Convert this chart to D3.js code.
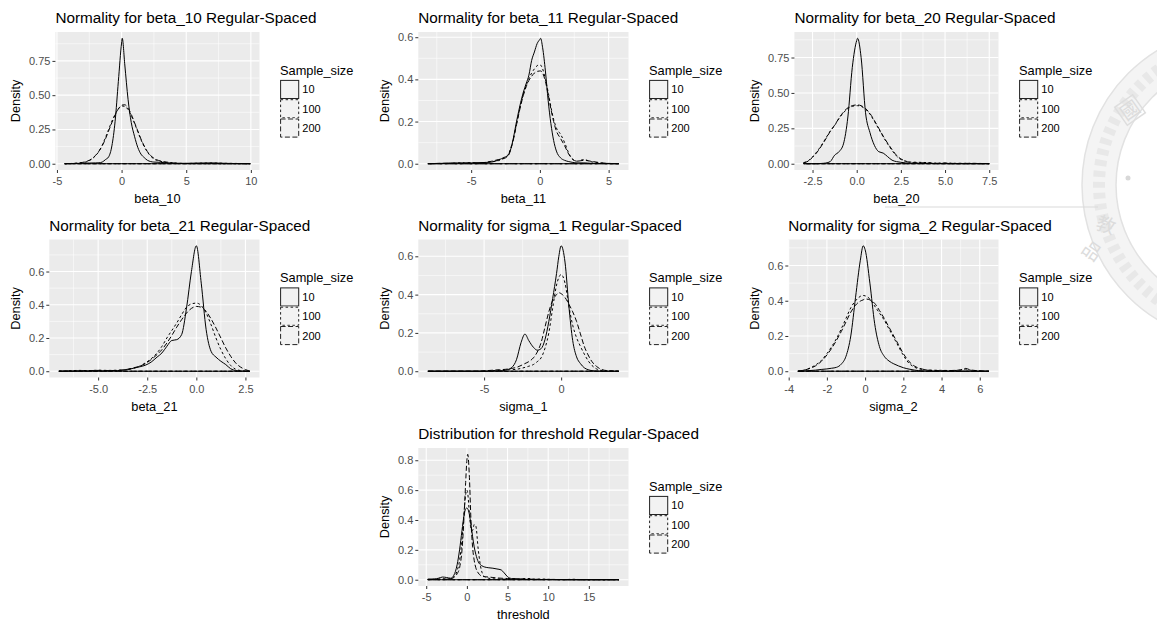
<!DOCTYPE html>
<html><head><meta charset="utf-8">
<script src="https://cdn.jsdelivr.net/npm/d3@7"></script>
<style>
body{margin:0;background:#fff;}
svg{display:block;font-family:"Liberation Sans",Arial,sans-serif;}
</style>
</head><body>
<svg id="c" width="1157" height="628"></svg>
<script>
// ---------------- DATA ----------------
const sampleSizes = ["10", "100", "200"];

// beta_10
const b10_x = [-4.4,-3.5,-3,-2.5,-2,-1.75,-1.5,-1.25,-1,-0.75,-0.5,-0.25,0,0.05,0.25,0.5,0.75,1,1.25,1.5,1.75,2,2.5,3,3.5,4,4.5,5,6,7,8,9,9.95];
const b10_n10 = [0,0.002,0.004,0.005,0.006,0.007,0.012,0.03,0.05,0.13,0.31,0.6,0.88,0.915,0.72,0.47,0.3,0.2,0.12,0.07,0.045,0.025,0.012,0.01,0.006,0.004,0.003,0.003,0.005,0.006,0.003,0.001,0];
const b10_n100 = [0,0.004,0.008,0.022,0.06,0.09,0.135,0.19,0.25,0.31,0.36,0.4,0.42,0.421,0.418,0.395,0.35,0.295,0.235,0.175,0.125,0.085,0.035,0.018,0.008,0.006,0.003,0.002,0.004,0.005,0.003,0.002,0];
const b10_n200 = [0,0.003,0.01,0.025,0.062,0.092,0.13,0.18,0.24,0.3,0.355,0.4,0.425,0.428,0.43,0.405,0.36,0.3,0.24,0.18,0.13,0.088,0.04,0.02,0.012,0.005,0.002,0.001,0.001,0.001,0,0,0];
const b10_xTicks = [-5, 0, 5, 10];
const b10_xLabels = ["-5", "0", "5", "10"];
const b10_yTicks = [0, 0.25, 0.5, 0.75];
const b10_yLabels = ["0.00", "0.25", "0.50", "0.75"];

// beta_11
const b11_x = [-8.15,-7,-6,-5.5,-5,-4.5,-4,-3.5,-3,-2.6,-2.3,-2,-1.7,-1.4,-1.2,-1,-0.8,-0.6,-0.4,-0.2,0,0.05,0.2,0.4,0.6,0.8,1,1.2,1.5,1.8,2.1,2.4,2.7,3.2,3.7,4.5,5.75];
const b11_n10 = [0,0.002,0.004,0.003,0.004,0.005,0.006,0.008,0.018,0.03,0.04,0.1,0.2,0.29,0.34,0.38,0.42,0.49,0.53,0.57,0.59,0.595,0.55,0.44,0.3,0.19,0.11,0.06,0.028,0.016,0.01,0.006,0.004,0.004,0.002,0.001,0];
const b11_n100 = [0,0.001,0.003,0.005,0.004,0.003,0.005,0.01,0.015,0.028,0.045,0.1,0.19,0.28,0.33,0.37,0.405,0.43,0.45,0.465,0.47,0.468,0.45,0.4,0.34,0.27,0.21,0.17,0.14,0.1,0.05,0.02,0.012,0.02,0.01,0.003,0];
const b11_n200 = [0,0.002,0.002,0.003,0.004,0.003,0.006,0.012,0.02,0.025,0.04,0.095,0.185,0.275,0.325,0.365,0.395,0.415,0.43,0.438,0.44,0.44,0.43,0.39,0.33,0.26,0.2,0.155,0.12,0.085,0.045,0.02,0.012,0.016,0.012,0.004,0];
const b11_xTicks = [-5, 0, 5];
const b11_xLabels = ["-5", "0", "5"];
const b11_yTicks = [0, 0.2, 0.4, 0.6];
const b11_yLabels = ["0.0", "0.2", "0.4", "0.6"];

// beta_20
const b20_x = [-3,-2.75,-2.5,-2.25,-2,-1.75,-1.5,-1.25,-1,-0.75,-0.5,-0.25,0,0.05,0.25,0.5,0.75,1,1.25,1.5,1.75,2,2.25,2.5,2.75,3,3.5,4,4.5,5,5.5,6,6.5,7,7.5];
const b20_n10 = [0,0,0,0,0.002,0.005,0.015,0.06,0.085,0.14,0.33,0.68,0.87,0.886,0.75,0.36,0.22,0.13,0.085,0.075,0.05,0.025,0.015,0.01,0.006,0.004,0.003,0.002,0.001,0.001,0,0,0,0,0];
const b20_n100 = [0.008,0.02,0.05,0.085,0.13,0.18,0.23,0.27,0.32,0.36,0.39,0.405,0.41,0.41,0.405,0.385,0.35,0.3,0.245,0.19,0.14,0.095,0.055,0.03,0.018,0.012,0.01,0.008,0.004,0.004,0.003,0.003,0.002,0.002,0];
const b20_n200 = [0.006,0.018,0.045,0.08,0.125,0.175,0.228,0.272,0.322,0.365,0.395,0.41,0.415,0.415,0.41,0.39,0.355,0.305,0.25,0.195,0.145,0.1,0.06,0.034,0.02,0.01,0.006,0.006,0.003,0.005,0.002,0.002,0.003,0.001,0];
const b20_xTicks = [-2.5, 0, 2.5, 5, 7.5];
const b20_xLabels = ["-2.5", "0.0", "2.5", "5.0", "7.5"];
const b20_yTicks = [0, 0.25, 0.5, 0.75];
const b20_yLabels = ["0.00", "0.25", "0.50", "0.75"];

// beta_21
const b21_x = [-7,-6.5,-6,-5.5,-5,-4.5,-4,-3.5,-3.2,-2.9,-2.6,-2.3,-2,-1.75,-1.5,-1.25,-1,-0.75,-0.5,-0.25,0,0.25,0.5,0.75,1,1.25,1.5,1.75,2,2.25,2.5,2.73];
const b21_n10 = [0,0.001,0.001,0.002,0.002,0.002,0.004,0.01,0.018,0.026,0.036,0.055,0.085,0.11,0.15,0.185,0.19,0.22,0.38,0.6,0.755,0.53,0.25,0.12,0.085,0.06,0.04,0.015,0.004,0.001,0,0];
const b21_n100 = [0,0.002,0.005,0.004,0.006,0.005,0.006,0.01,0.018,0.03,0.05,0.075,0.11,0.15,0.2,0.245,0.29,0.34,0.385,0.405,0.41,0.395,0.35,0.28,0.2,0.13,0.075,0.035,0.012,0.004,0.001,0];
const b21_n200 = [0,0.001,0.002,0.003,0.005,0.004,0.005,0.012,0.02,0.03,0.045,0.07,0.1,0.13,0.17,0.215,0.265,0.31,0.35,0.378,0.39,0.385,0.36,0.315,0.26,0.2,0.14,0.09,0.05,0.025,0.01,0];
const b21_xTicks = [-5, -2.5, 0, 2.5];
const b21_xLabels = ["-5.0", "-2.5", "0.0", "2.5"];
const b21_yTicks = [0, 0.2, 0.4, 0.6];
const b21_yLabels = ["0.0", "0.2", "0.4", "0.6"];

// sigma_1
const s1_x = [-8.65,-7.5,-6.5,-5.5,-5,-4.5,-4,-3.6,-3.2,-2.9,-2.6,-2.35,-2.1,-1.8,-1.55,-1.3,-1.05,-0.8,-0.55,-0.3,-0.15,0,0.25,0.5,0.75,1,1.25,1.5,1.75,2,2.3,2.6,3,3.75];
const s1_n10 = [0,0,0,0,0,0.001,0.002,0.006,0.02,0.06,0.15,0.194,0.16,0.125,0.11,0.118,0.165,0.26,0.38,0.51,0.6,0.655,0.57,0.34,0.16,0.075,0.04,0.018,0.008,0.003,0.001,0,0,0];
const s1_n100 = [0,0,0,0,0.001,0.003,0.004,0.006,0.008,0.01,0.015,0.02,0.026,0.035,0.05,0.07,0.12,0.2,0.33,0.45,0.49,0.505,0.46,0.34,0.24,0.175,0.13,0.09,0.055,0.03,0.012,0.004,0.001,0];
const s1_n200 = [0,0,0,0,0.002,0.005,0.008,0.01,0.015,0.02,0.03,0.04,0.05,0.07,0.1,0.15,0.23,0.31,0.37,0.4,0.41,0.405,0.385,0.35,0.31,0.26,0.195,0.13,0.085,0.05,0.025,0.01,0.003,0];
const s1_xTicks = [-5, 0];
const s1_xLabels = ["-5", "0"];
const s1_yTicks = [0, 0.2, 0.4, 0.6];
const s1_yLabels = ["0.0", "0.2", "0.4", "0.6"];

// sigma_2
const s2_x = [-3.52,-3,-2.6,-2.3,-2,-1.75,-1.5,-1.25,-1,-0.75,-0.5,-0.25,-0.1,0,0.25,0.5,0.75,1,1.25,1.5,1.75,2,2.3,2.6,3,3.5,4,4.5,5,5.25,5.5,6,6.48];
const s2_n10 = [0,0.003,0.006,0.01,0.013,0.017,0.022,0.04,0.085,0.2,0.42,0.63,0.712,0.69,0.5,0.27,0.14,0.085,0.058,0.042,0.03,0.02,0.012,0.006,0.002,0,0,0,0,0,0,0,0];
const s2_n100 = [0,0.013,0.035,0.06,0.1,0.14,0.185,0.24,0.3,0.36,0.4,0.425,0.43,0.428,0.41,0.37,0.33,0.29,0.24,0.19,0.14,0.09,0.045,0.022,0.01,0.006,0.005,0.004,0.006,0.012,0.006,0.002,0];
const s2_n200 = [0,0.012,0.03,0.055,0.092,0.13,0.175,0.225,0.28,0.335,0.375,0.398,0.405,0.41,0.405,0.385,0.345,0.3,0.25,0.2,0.15,0.1,0.055,0.028,0.012,0.004,0.003,0.004,0.008,0.016,0.008,0.002,0];
const s2_xTicks = [-4, -2, 0, 2, 4, 6];
const s2_xLabels = ["-4", "-2", "0", "2", "4", "6"];
const s2_yTicks = [0, 0.2, 0.4, 0.6];
const s2_yLabels = ["0.0", "0.2", "0.4", "0.6"];

// threshold
const th_x = [-4.8,-4,-3.5,-3,-2.5,-2,-1.6,-1.2,-0.9,-0.6,-0.35,-0.15,0,0.1,0.3,0.5,0.7,0.9,1.1,1.4,1.8,2.2,2.7,3.2,3.7,4.2,4.6,5,5.5,6.5,7.5,8.5,9.5,10.5,12,13,14,16,18.7];
const th_n10 = [0.004,0.005,0.01,0.018,0.015,0.01,0.03,0.1,0.2,0.33,0.43,0.475,0.48,0.475,0.44,0.37,0.29,0.22,0.17,0.12,0.095,0.085,0.08,0.077,0.072,0.066,0.045,0.02,0.008,0.004,0.002,0.001,0.001,0.001,0,0,0,0,0];
const th_n100 = [0.002,0.003,0.004,0.006,0.005,0.008,0.02,0.06,0.13,0.27,0.45,0.57,0.6,0.58,0.45,0.34,0.33,0.37,0.36,0.2,0.06,0.02,0.01,0.006,0.005,0.004,0.004,0.005,0.006,0.006,0.008,0.004,0.004,0.002,0.001,0.003,0.001,0,0];
const th_n200 = [0.001,0.002,0.003,0.003,0.004,0.006,0.015,0.04,0.08,0.2,0.42,0.65,0.8,0.84,0.7,0.4,0.22,0.13,0.08,0.045,0.025,0.02,0.018,0.015,0.012,0.01,0.009,0.008,0.006,0.005,0.004,0.003,0.002,0.002,0.001,0.001,0,0,0];
const th_xTicks = [-5, 0, 5, 10, 15];
const th_xLabels = ["-5", "0", "5", "10", "15"];
const th_yTicks = [0, 0.2, 0.4, 0.6, 0.8];
const th_yLabels = ["0.0", "0.2", "0.4", "0.6", "0.8"];

const panelTitles = [
  "Normality for beta_10 Regular-Spaced",
  "Normality for beta_11 Regular-Spaced",
  "Normality for beta_20 Regular-Spaced",
  "Normality for beta_21 Regular-Spaced",
  "Normality for sigma_1 Regular-Spaced",
  "Normality for sigma_2 Regular-Spaced",
  "Distribution for threshold Regular-Spaced"
];
const xTitles = ["beta_10", "beta_11", "beta_20", "beta_21", "sigma_1", "sigma_2", "threshold"];
const yTitle = "Density";
const legendTitle = "Sample_size";

// ---------------- ASSEMBLY ----------------
const panels = [
  {x: b10_x, ys: [b10_n10, b10_n100, b10_n200], xt: b10_xTicks, xl: b10_xLabels, yt: b10_yTicks, yl: b10_yLabels, col: 0, row: 0},
  {x: b11_x, ys: [b11_n10, b11_n100, b11_n200], xt: b11_xTicks, xl: b11_xLabels, yt: b11_yTicks, yl: b11_yLabels, col: 1, row: 0},
  {x: b20_x, ys: [b20_n10, b20_n100, b20_n200], xt: b20_xTicks, xl: b20_xLabels, yt: b20_yTicks, yl: b20_yLabels, col: 2, row: 0},
  {x: b21_x, ys: [b21_n10, b21_n100, b21_n200], xt: b21_xTicks, xl: b21_xLabels, yt: b21_yTicks, yl: b21_yLabels, col: 0, row: 1},
  {x: s1_x, ys: [s1_n10, s1_n100, s1_n200], xt: s1_xTicks, xl: s1_xLabels, yt: s1_yTicks, yl: s1_yLabels, col: 1, row: 1},
  {x: s2_x, ys: [s2_n10, s2_n100, s2_n200], xt: s2_xTicks, xl: s2_xLabels, yt: s2_yTicks, yl: s2_yLabels, col: 2, row: 1},
  {x: th_x, ys: [th_n10, th_n100, th_n200], xt: th_xTicks, xl: th_xLabels, yt: th_yTicks, yl: th_yLabels, col: 1, row: 2}
];
panels.forEach((p, i) => {
  p.title = panelTitles[i]; p.xlab = xTitles[i];
  p.ys.forEach((s, k) => { if (s.length !== p.x.length) throw new Error("length mismatch panel " + i + " series " + k); });
});

// ---------------- STYLE / LAYOUT ----------------
const dashes = [null, "2.5,2.5", "5,2.5"];
const colX = [0, 369, 739];
const rowTop = [32, 239.5, 448];
const panelH = 138;
const FS_TICK = 11, FS_AXT = 12.8, FS_TITLE = 15.3;

const svg = d3.select("#c");
svg.append("rect").attr("width", 1157).attr("height", 628).attr("fill", "#fff");

// faint watermark seal (background)
(function watermark() {
  const wm = svg.append("g");
  const cx = 1240, cy = 185, ro = 158, ri = 124;
  const ring = d3.arc().innerRadius(ri).outerRadius(ro).startAngle(0).endAngle(2 * Math.PI);
  wm.append("path").attr("transform", `translate(${cx},${cy})`).attr("d", ring()).attr("fill", "#f4f4f4");
  wm.append("circle").attr("cx", cx).attr("cy", cy).attr("r", (ro + ri) / 2)
    .attr("fill", "none").attr("stroke", "#e8e8e8").attr("stroke-width", 12).attr("stroke-dasharray", "6,5");
  wm.append("circle").attr("cx", cx).attr("cy", cy).attr("r", ro).attr("fill", "none").attr("stroke", "#e2e2e2").attr("stroke-width", 1.5);
  wm.append("circle").attr("cx", cx).attr("cy", cy).attr("r", ri).attr("fill", "none").attr("stroke", "#e2e2e2").attr("stroke-width", 1.5);
  wm.append("rect").attr("x", 1119).attr("y", 99).attr("width", 22).attr("height", 22)
    .attr("transform", "rotate(-35,1130,110)").attr("fill", "none").attr("stroke", "#dedede").attr("stroke-width", 1.5);
  const chars = [["國", 1130, 117, -35], ["教", 1106, 232, 20], ["品", 1092, 258, 35]];
  chars.forEach(([t, x, y, rot]) => {
    wm.append("text").attr("x", x).attr("y", y).attr("transform", `rotate(${rot},${x},${y - 7})`)
      .attr("text-anchor", "middle").attr("font-family", "Noto Sans CJK TC").attr("font-size", 19)
      .attr("fill", "#dcdcdc").text(t);
  });
  wm.append("circle").attr("cx", 1128).attr("cy", 178).attr("r", 2.5).attr("fill", "#d8d8d8");
  wm.append("line").attr("x1", 885).attr("x2", 1098).attr("y1", 207).attr("y2", 207)
    .attr("stroke", "#dadada").attr("stroke-width", 1.2);
})();

function minorBreaks(ticks, dom) {
  const step = ticks.length > 1 ? ticks[1] - ticks[0] : 1;
  const out = [];
  const kStart = Math.floor((dom[0] - ticks[0]) / step) - 1;
  const kEnd = Math.ceil((dom[1] - ticks[0]) / step) + 1;
  for (let k = kStart; k <= kEnd; k++) {
    const m = ticks[0] + (k + 0.5) * step;
    if (m >= dom[0] && m <= dom[1]) out.push(m);
  }
  return out;
}

panels.forEach(p => {
  const g = svg.append("g");
  const tmp = g.append("g").attr("font-size", FS_TICK);
  let maxW = 0;
  p.yl.forEach(t => { const el = tmp.append("text").text(t); maxW = Math.max(maxW, el.node().getComputedTextLength()); });
  tmp.remove();

  const cx0 = colX[p.col];
  const labelsLeft = cx0 + 29;
  const left = labelsLeft + maxW + 5;
  const right = cx0 + 259.5;
  const top = rowTop[p.row], bottom = top + panelH;

  const xExt = d3.extent(p.x), r = xExt[1] - xExt[0];
  const x = d3.scaleLinear().domain([xExt[0] - 0.05 * r, xExt[1] + 0.05 * r]).range([left, right]);
  const ymax = d3.max(p.ys.flat());
  const y = d3.scaleLinear().domain([-0.05 * ymax, 1.05 * ymax]).range([bottom, top]);

  g.append("rect").attr("x", left).attr("y", top).attr("width", right - left).attr("height", bottom - top).attr("fill", "#EBEBEB");
  minorBreaks(p.xt, x.domain()).forEach(v => g.append("line").attr("x1", x(v)).attr("x2", x(v)).attr("y1", top).attr("y2", bottom).attr("stroke", "#fff").attr("stroke-width", 0.55));
  minorBreaks(p.yt, y.domain()).forEach(v => g.append("line").attr("y1", y(v)).attr("y2", y(v)).attr("x1", left).attr("x2", right).attr("stroke", "#fff").attr("stroke-width", 0.55));
  p.xt.forEach(v => g.append("line").attr("x1", x(v)).attr("x2", x(v)).attr("y1", top).attr("y2", bottom).attr("stroke", "#fff").attr("stroke-width", 1.1));
  p.yt.forEach(v => g.append("line").attr("y1", y(v)).attr("y2", y(v)).attr("x1", left).attr("x2", right).attr("stroke", "#fff").attr("stroke-width", 1.1));

  const line = d3.line().x(d => x(d[0])).y(d => y(d[1])).curve(d3.curveMonotoneX);
  p.ys.forEach((s, k) => {
    const pts = p.x.map((xv, j) => [xv, s[j]]);
    const d = line(pts) + `L${x(xExt[1])},${y(0)}L${x(xExt[0])},${y(0)}Z`;
    const path = g.append("path").attr("d", d).attr("fill", "none").attr("stroke", "#000")
      .attr("stroke-width", 1).attr("stroke-linejoin", "round");
    if (dashes[k]) path.attr("stroke-dasharray", dashes[k]);
  });

  const ax = g.append("g").attr("transform", `translate(0,${bottom})`)
    .call(d3.axisBottom(x).tickValues(p.xt).tickFormat((d, i) => p.xl[i]).tickSize(3).tickPadding(4.5));
  const ay = g.append("g").attr("transform", `translate(${left},0)`)
    .call(d3.axisLeft(y).tickValues(p.yt).tickFormat((d, i) => p.yl[i]).tickSize(3).tickPadding(2));
  [ax, ay].forEach(a => {
    a.select(".domain").remove();
    a.attr("font-family", null).attr("font-size", FS_TICK);
    a.selectAll("line").attr("stroke", "#333").attr("stroke-width", 1);
    a.selectAll("text").attr("fill", "#4D4D4D");
  });

  g.append("text").attr("x", left).attr("y", top - 9).attr("font-size", FS_TITLE).attr("fill", "#000").text(p.title);
  g.append("text").attr("x", (left + right) / 2).attr("y", bottom + 33).attr("text-anchor", "middle")
    .attr("font-size", FS_AXT).attr("fill", "#000").text(p.xlab);
  const ytx = labelsLeft - 9, yty = (top + bottom) / 2;
  g.append("text").attr("transform", `translate(${ytx},${yty}) rotate(-90)`).attr("text-anchor", "middle")
    .attr("font-size", FS_AXT).attr("fill", "#000").text(yTitle);

  const lx = right + 20.5, mid = (top + bottom) / 2;
  const lg = g.append("g");
  lg.append("text").attr("x", lx).attr("y", mid - 26.5).attr("font-size", FS_AXT).attr("fill", "#000").text(legendTitle);
  const ks = 19.3, k0 = mid - 21.2;
  sampleSizes.forEach((lab, k) => {
    const ky = k0 + k * ks;
    lg.append("rect").attr("x", lx).attr("y", ky).attr("width", ks).attr("height", ks).attr("fill", "#F2F2F2");
    const kr = lg.append("rect").attr("x", lx + 0.6).attr("y", ky + 0.6).attr("width", ks - 1.2).attr("height", ks - 1.2)
      .attr("fill", "none").attr("stroke", "#222").attr("stroke-width", 1);
    if (dashes[k]) kr.attr("stroke-dasharray", dashes[k]);
    lg.append("text").attr("x", lx + ks + 3).attr("y", ky + ks / 2).attr("dy", "0.36em")
      .attr("font-size", FS_TICK).attr("fill", "#000").text(lab);
  });
});
</script>
</body></html>
